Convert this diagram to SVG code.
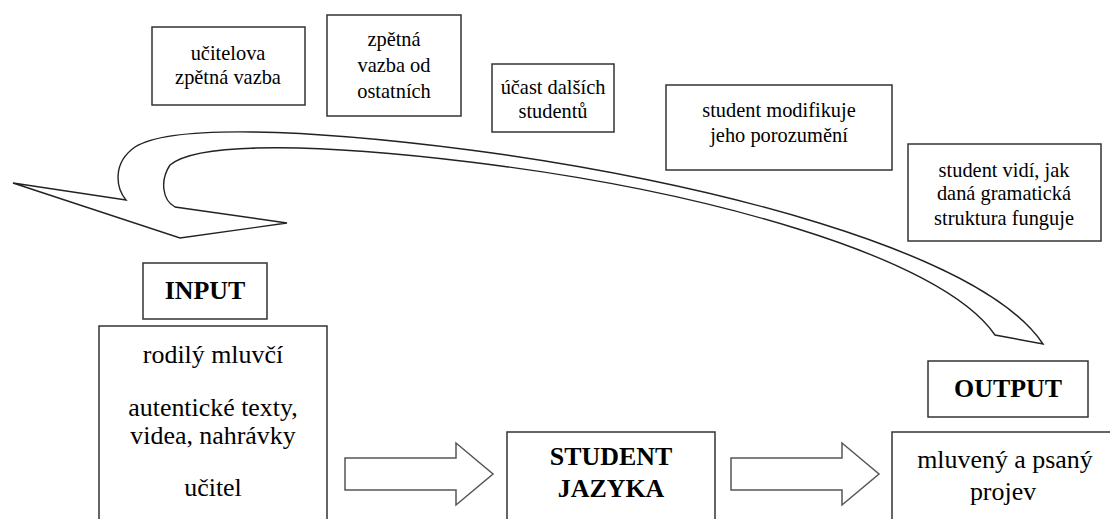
<svg xmlns="http://www.w3.org/2000/svg" width="1110" height="519" viewBox="0 0 1110 519">
<defs>
<path id="block-arrow" d="M0,0 L111,0 L111,-15 L148,16 L111,47 L111,32 L0,32 Z" fill="#fff" stroke="#555" stroke-width="1.5"/>
</defs>
<rect width="1110" height="519" fill="#fff"/>
<g id="connectors">
<path id="feedback-arrow" fill="#fff" stroke="#222" stroke-width="1.4" d="M13,183 L126,200 C116,188 112,163 135,147 C170,125 300,128 470,150 C700,180 980,250 1043,344 L995,335 C940,255 700,190 470,162 C330,145 200,140 170,165 C160,180 162,200 175,207 L287,223 L180,238 Z"/>
<use href="#block-arrow" x="345" y="458"/>
<use href="#block-arrow" x="731" y="458"/>
</g>
<g id="n-ucitelova" fill="none" stroke="#333" stroke-width="1.5">
<rect x="152" y="27" width="153" height="78" fill="#fff"/>
</g>
<g id="n-zpetna" fill="none" stroke="#333" stroke-width="1.5">
<rect x="327" y="15" width="134" height="101" fill="#fff"/>
</g>
<g id="n-ucast" fill="none" stroke="#333" stroke-width="1.5">
<rect x="492" y="64" width="122" height="68" fill="#fff"/>
</g>
<g id="n-modifikuje" fill="none" stroke="#333" stroke-width="1.5">
<rect x="666" y="85" width="226" height="85" fill="#fff"/>
</g>
<g id="n-vidi" fill="none" stroke="#333" stroke-width="1.5">
<rect x="908" y="144" width="193" height="97" fill="#fff"/>
</g>
<g id="n-input-label" fill="none" stroke="#333" stroke-width="1.5">
<rect x="143" y="263" width="124" height="56" fill="#fff"/>
</g>
<g id="n-input" fill="none" stroke="#333" stroke-width="1.5">
<rect x="99" y="326" width="228" height="210" fill="#fff"/>
</g>
<g id="n-student" fill="none" stroke="#333" stroke-width="1.5">
<rect x="507" y="432" width="208" height="110" fill="#fff"/>
</g>
<g id="n-output-label" fill="none" stroke="#333" stroke-width="1.5">
<rect x="928" y="361" width="160" height="56" fill="#fff"/>
</g>
<g id="n-output" fill="none" stroke="#333" stroke-width="1.5">
<rect x="892" y="432" width="240" height="110" fill="#fff"/>
</g>
<g id="labels" font-family="Liberation Serif" font-size="24" text-anchor="middle">
<text transform="translate(228 60) scale(0.85)">učitelova</text>
<text transform="translate(228 84) scale(0.85)">zpětná vazba</text>
<text transform="translate(394 46) scale(0.85)">zpětná</text>
<text transform="translate(394 72) scale(0.85)">vazba od</text>
<text transform="translate(394 98) scale(0.85)">ostatních</text>
<text transform="translate(553 94) scale(0.85)">účast dalších</text>
<text transform="translate(553 118) scale(0.85)">studentů</text>
<text transform="translate(779 117) scale(0.85)">student modifikuje</text>
<text transform="translate(779 142) scale(0.85)">jeho porozumění</text>
<text transform="translate(1004 177) scale(0.85)">student vidí, jak</text>
<text transform="translate(1004 200) scale(0.85)">daná gramatická</text>
<text transform="translate(1004 225) scale(0.85)">struktura funguje</text>
<text transform="translate(205 299) scale(1.08)" font-weight="bold">INPUT</text>
<text transform="translate(213 363) scale(1.08)">rodilý mluvčí</text>
<text transform="translate(213 416) scale(1.08)">autentické texty,</text>
<text transform="translate(213 444) scale(1.08)">videa, nahrávky</text>
<text transform="translate(213 496) scale(1.08)">učitel</text>
<text transform="translate(611 465) scale(1.08)" font-weight="bold">STUDENT</text>
<text transform="translate(611 497) scale(1.08)" font-weight="bold">JAZYKA</text>
<text transform="translate(1008 397) scale(1.08)" font-weight="bold">OUTPUT</text>
<text transform="translate(1005 468) scale(1.08)">mluvený a psaný</text>
<text transform="translate(1003 500) scale(1.08)">projev</text>
</g>
</svg>
